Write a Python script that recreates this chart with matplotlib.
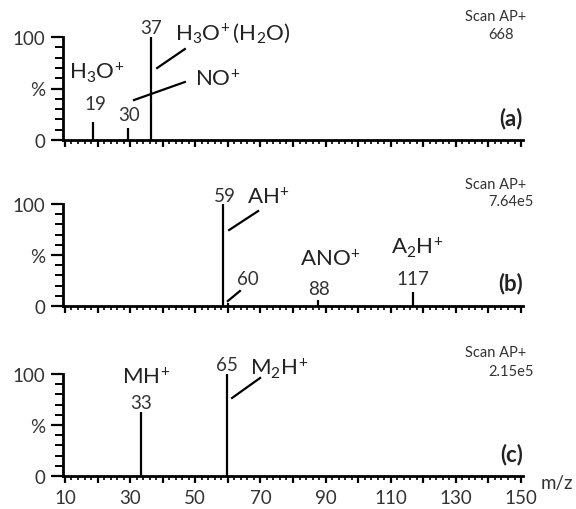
import matplotlib
matplotlib.use("Agg")
import matplotlib.pyplot as plt
from matplotlib.ticker import MultipleLocator, FuncFormatter, FixedLocator

plt.rcParams['font.family'] = ['Lato', 'DejaVu Sans']
plt.rcParams['mathtext.default'] = 'regular'

# peak positions (m/z) and relative intensities (%)
mz_a = [18.7, 29.5, 36.5]
int_a = [17, 12, 100]
mz_b = [58.6, 60.0, 87.7, 116.8]
int_b = [100, 3, 6, 14]
mz_c = [33.3, 59.7]
int_c = [63, 100]

scan_vals = ['668', '7.64e5', '2.15e5']
panel_tags = ['(a)', '(b)', '(c)']
x_ticklabels = [10, 30, 50, 70, 90, 110, 130, 150]

fig = plt.figure(figsize=(5.76, 5.10), dpi=100)
axes = [
    fig.add_axes([63 / 576, 1 - 141 / 510, 460 / 576, 103 / 510]),
    fig.add_axes([63 / 576, 1 - 307 / 510, 460 / 576, 102 / 510]),
    fig.add_axes([63 / 576, 1 - 477 / 510, 460 / 576, 102 / 510]),
]

peaks = [(mz_a, int_a), (mz_b, int_b), (mz_c, int_c)]

for i, ax in enumerate(axes):
    mz, inten = peaks[i]
    ax.vlines(mz, 0, inten, color='black', lw=1.6)
    ax.set_xlim(9.4, 150.6)
    ax.set_ylim(0, 100)
    for s in ['top', 'right']:
        ax.spines[s].set_visible(False)
    for s in ['left', 'bottom']:
        ax.spines[s].set_linewidth(2.0)
    ax.yaxis.set_major_locator(FixedLocator([0, 50, 100]))
    ax.set_yticklabels(['0', '%', '100'])
    ax.yaxis.set_minor_locator(MultipleLocator(10))
    ax.xaxis.set_major_locator(MultipleLocator(10))
    ax.xaxis.set_minor_locator(MultipleLocator(2))
    if i == 2:
        ax.xaxis.set_major_formatter(FuncFormatter(
            lambda v, p: '%d' % v if int(round(v)) in x_ticklabels else ''))
    else:
        ax.xaxis.set_major_formatter(FuncFormatter(lambda v, p: ''))
    ax.tick_params(which='both', colors='black', labelcolor='#333333', labelsize=13.5)
    ax.tick_params(axis='y', which='major', length=8.5, width=1.6, pad=4)
    ax.tick_params(axis='y', which='minor', length=5.5, width=1.4)
    ax.tick_params(axis='x', which='major', length=5, width=1.6, pad=4.5)
    ax.tick_params(axis='x', which='minor', length=3, width=1.2)
    ax.text(1.0, [22.3, 23.5, 21.6][i], panel_tags[i], transform=ax.get_yaxis_transform(),
            ha='right', va='center', fontsize=16, fontweight='bold', color='#222222')
    ax.text(132.8, [120.4, 119.6, 121.6][i], 'Scan AP+', fontsize=10.5,
            ha='left', va='center', color='#333333')
    ax.text(140.0, 102.9, scan_vals[i], fontsize=10.5, ha='left', va='center',
            color='#333333')

lbl = dict(fontsize=13.5, color='#333333', va='center')
ion = dict(fontsize=16, color='#222222', va='center')

# panel (a)
ax = axes[0]
ax.text(36.4, 109.7, '37', ha='center', **lbl)
ax.text(43.8, 104.9, r'H$_3$O$^{\!+}$(H$_2$O)', ha='left', **ion)
ax.plot([38.3, 46.8], [69.9, 88.3], color='black', lw=1.6, clip_on=False)
ax.text(49.9, 59.2, r'NO$^{\!+}$', ha='left', **ion)
ax.plot([31.2, 46.8], [38.8, 56.3], color='black', lw=1.6, clip_on=False)
ax.text(19.8, 66.0, r'H$_3$O$^{\!+}$', ha='center', **ion)
ax.text(19.2, 35.9, '19', ha='center', **lbl)
ax.text(29.7, 24.3, '30', ha='center', **lbl)

# panel (b)
ax = axes[1]
ax.text(59.1, 108.8, '59', ha='center', **lbl)
ax.text(65.9, 106.9, r'AH$^{\!+}$', ha='left', **ion)
ax.plot([60.4, 69.3], [74.5, 93.1], color='black', lw=1.6, clip_on=False)
ax.text(66.2, 26.5, '60', ha='center', **lbl)
ax.plot([60.0, 63.7], [4.9, 14.7], color='black', lw=1.6, clip_on=False)
ax.text(91.4, 46.1, r'ANO$^{\!+}$', ha='center', **ion)
ax.text(88.0, 17.6, '88', ha='center', **lbl)
ax.text(118.1, 57.8, r'A$_2$H$^{\!+}$', ha='center', **ion)
ax.text(116.8, 26.5, '117', ha='center', **lbl)

# panel (c)
ax = axes[2]
ax.text(34.9, 97.1, r'MH$^{\!+}$', ha='center', **ion)
ax.text(33.3, 72.5, '33', ha='center', **lbl)
ax.text(59.7, 109.8, '65', ha='center', **lbl)
ax.text(66.8, 105.9, r'M$_2$H$^{\!+}$', ha='left', **ion)
ax.plot([61.3, 69.9], [76.5, 96.1], color='black', lw=1.6, clip_on=False)
ax.text(156.0, -5.9, 'm/z', ha='left', **lbl)

fig.savefig('out.png', dpi=100)
